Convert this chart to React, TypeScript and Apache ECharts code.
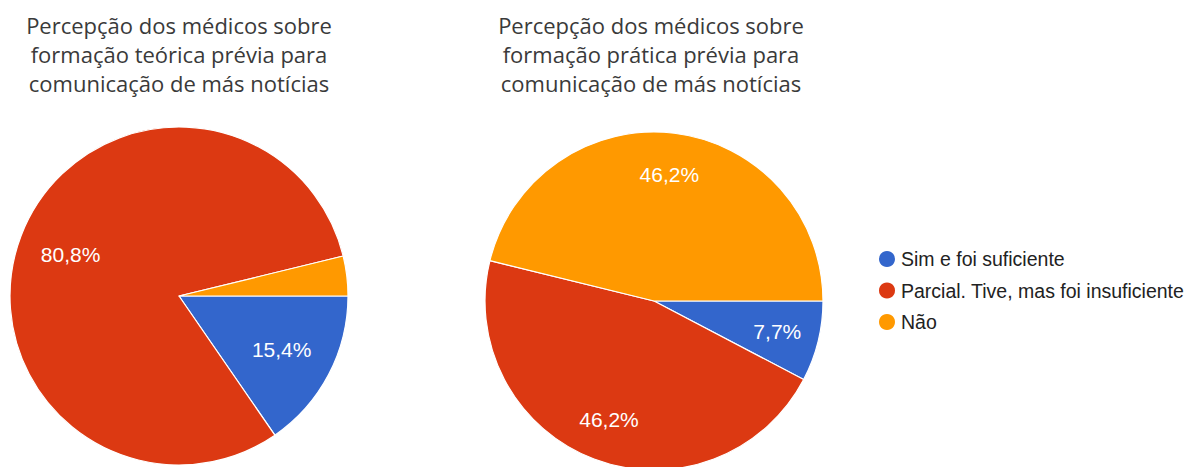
import React, { useEffect, useRef } from "react";
import * as echarts from "echarts";

const categories = ["Sim e foi suficiente", "Parcial. Tive, mas foi insuficiente", "Não"];
const teoricaValues = [15.4, 80.8, 3.8];
const praticaValues = [7.7, 46.2, 46.2];
const titleTeorica = "Percepção dos médicos sobre\nformação teórica prévia para\ncomunicação de más notícias";
const titlePratica = "Percepção dos médicos sobre\nformação prática prévia para\ncomunicação de más notícias";
const colors = ["#3366cc", "#dc3912", "#ff9900"];

const R = 169;
const leftCenter = [179, 296];
const rightCenter = [654, 301];

function buildData(values: number[]) {
  return categories.map((name, i) => ({ name, value: values[i] }));
}

const fmt = (p: any) => (p.percent < 5 ? "" : p.value.toFixed(1).replace(".", ",") + "%");

function pieSeries(values: number[], center: number[], labelInner: number) {
  return [
    {
      type: "pie",
      center,
      radius: [0, R],
      startAngle: 0,
      clockwise: true,
      avoidLabelOverlap: false,
      data: buildData(values),
      itemStyle: { borderColor: "#ffffff", borderWidth: 1.2 },
      label: { show: false },
      labelLine: { show: false },
      emphasis: { disabled: true },
    },
    {
      type: "pie",
      center,
      radius: [labelInner, R],
      startAngle: 0,
      clockwise: true,
      silent: true,
      avoidLabelOverlap: false,
      data: buildData(values),
      itemStyle: { color: "rgba(0,0,0,0)", borderWidth: 0 },
      label: {
        show: true,
        position: "inside",
        formatter: fmt,
        color: "#ffffff",
        fontSize: 21,
        fontFamily: "Liberation Sans, Arial, sans-serif",
      },
      labelLine: { show: false },
      emphasis: { disabled: true },
    },
  ];
}

export default function App() {
  const ref = useRef<HTMLDivElement>(null);
  useEffect(() => {
    if (!ref.current) return;
    const chart = echarts.init(ref.current, undefined, { renderer: "svg" });
    chart.setOption({
      animation: false,
      backgroundColor: "#ffffff",
      color: colors,
      graphic: [
        {
          type: "text",
          x: 179,
          y: 10,
          style: {
            text: titleTeorica,
            textAlign: "center",
            textVerticalAlign: "top",
            font: '22px "Open Sans", sans-serif',
            lineHeight: 29,
            fill: "#3a3a3a",
          },
        },
        {
          type: "text",
          x: 651,
          y: 10,
          style: {
            text: titlePratica,
            textAlign: "center",
            textVerticalAlign: "top",
            font: '22px "Open Sans", sans-serif',
            lineHeight: 29,
            fill: "#3a3a3a",
          },
        },
      ],
      legend: {
        orient: "vertical",
        left: 872,
        top: 244,
        icon: "circle",
        itemWidth: 18,
        itemHeight: 18,
        itemGap: 11.5,
        data: categories,
        selectedMode: false,
        textStyle: {
          fontSize: 19.5,
          lineHeight: 20,
          color: "#222222",
          fontFamily: "Liberation Sans, Arial, sans-serif",
        },
      },
      series: [
        ...pieSeries(teoricaValues, leftCenter, 57),
        ...pieSeries(praticaValues, rightCenter, 79),
      ],
    });
    return () => chart.dispose();
  }, []);
  return (
    <div
      ref={ref}
      style={{ position: "fixed", left: 0, top: 0, width: 1190, height: 467, background: "#fff" }}
    />
  );
}
